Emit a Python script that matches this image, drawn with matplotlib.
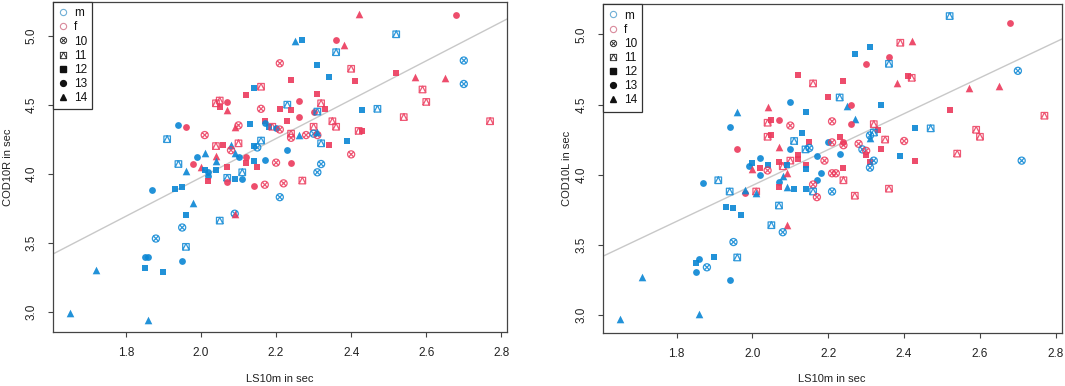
import numpy as np
import matplotlib
matplotlib.use("Agg")
import matplotlib.pyplot as plt
from matplotlib.path import Path
from matplotlib.lines import Line2D

plt.rcParams['font.family'] = ['Liberation Sans', 'DejaVu Sans']

# ---------------- data ----------------
# Left panel: LS10m vs COD10R
r_x = [2.42, 2.68, 2.52, 2.25, 2.27, 2.36, 2.38, 2.36, 2.70, 2.21, 2.31, 2.40, 2.52, 2.34, 2.24, 2.41,
       2.57, 2.65, 2.70, 2.14, 2.16, 2.59, 2.31, 2.12, 2.60, 2.32, 2.04, 2.05, 2.07, 2.05, 2.07, 2.16,
       2.23, 2.21, 2.24, 2.26, 2.33, 2.30, 2.31, 2.43, 2.47, 2.54, 2.26, 2.23, 2.35, 2.77, 1.94, 1.96,
       2.09, 2.10, 2.13, 2.17, 2.17, 2.18, 2.19, 2.20, 2.21, 2.30, 2.36, 2.24, 2.24, 2.26, 2.28, 2.30,
       2.31, 2.31, 2.43, 2.42, 1.91, 2.01, 2.16, 2.15, 2.32, 2.34, 2.39, 2.40, 2.04, 2.06, 2.08, 2.10,
       2.08, 2.09, 2.14, 2.23, 2.01, 1.99, 2.04, 2.04, 2.10, 2.12, 2.12, 2.14, 2.17, 2.20, 2.24, 2.00,
       1.98, 2.07, 2.15, 1.94, 2.32, 2.04, 2.01, 2.02, 2.02, 2.02, 2.07, 2.07, 2.09, 2.11, 2.11, 1.96,
       1.87, 1.93, 1.95, 2.14, 2.17, 2.22, 2.27, 2.21, 2.31, 1.98, 1.96, 1.95, 1.88, 1.96, 2.05, 2.09,
       2.09, 1.85, 1.86, 1.85, 1.95, 1.90, 1.72, 1.65, 1.86]
r_y = [5.16, 5.15, 5.01, 4.96, 4.97, 4.97, 4.93, 4.88, 4.82, 4.80, 4.79, 4.76, 4.73, 4.70, 4.68, 4.67,
       4.70, 4.69, 4.65, 4.62, 4.63, 4.61, 4.58, 4.57, 4.52, 4.51, 4.51, 4.53, 4.52, 4.48, 4.46, 4.47,
       4.50, 4.47, 4.46, 4.53, 4.47, 4.45, 4.45, 4.46, 4.47, 4.41, 4.41, 4.38, 4.38, 4.38, 4.35, 4.34,
       4.34, 4.35, 4.36, 4.38, 4.37, 4.34, 4.34, 4.33, 4.32, 4.34, 4.34, 4.29, 4.26, 4.28, 4.28, 4.29,
       4.28, 4.30, 4.31, 4.31, 4.25, 4.28, 4.24, 4.19, 4.22, 4.21, 4.24, 4.14, 4.20, 4.21, 4.21, 4.22,
       4.17, 4.15, 4.20, 4.17, 4.15, 4.12, 4.13, 4.09, 4.12, 4.12, 4.08, 4.09, 4.10, 4.08, 4.08, 4.05,
       4.07, 4.05, 4.05, 4.07, 4.07, 4.03, 4.03, 4.01, 3.98, 3.95, 3.97, 3.94, 3.96, 3.96, 4.01, 4.02,
       3.88, 3.89, 3.90, 3.91, 3.92, 3.93, 3.95, 3.83, 4.01, 3.79, 3.70, 3.61, 3.53, 3.47, 3.66, 3.71,
       3.71, 3.40, 3.40, 3.32, 3.37, 3.29, 3.30, 2.99, 2.94]
r_sex = list("ffmmmffmmf" "mffmffffmm" "ffffffffff" "ffmfffffmm" "mfffffmfff"
             "mfmmfmffff" "fmfmfmffmf" "mmmfmfffmf" "fmmmmmfmmf" "fmmffffffm"
             "mmmmmfmfmm" "mmmmmffffm" "mmmmmmmmfm" "mmmmmmm")
r_age = [14, 13, 11, 14, 12, 13, 14, 11, 10, 10, 12, 11, 12, 12, 12, 12, 14, 14, 10, 12, 11, 11, 12, 12,
         11, 11, 11, 11, 13, 12, 14, 10, 11, 12, 12, 13, 12, 13, 11, 12, 11, 11, 13, 12, 11, 11, 13, 13,
         14, 10, 12, 12, 13, 12, 11, 13, 10, 11, 11, 11, 10, 14, 10, 10, 10, 14, 12, 11, 11, 10, 11, 10,
         11, 12, 12, 10, 11, 12, 14, 11, 10, 14, 12, 13, 14, 13, 14, 14, 13, 13, 12, 12, 13, 10, 13, 14,
         13, 12, 12, 11, 10, 12, 12, 13, 13, 12, 11, 13, 12, 13, 11, 14, 13, 12, 12, 13, 10, 10, 11, 10,
         10, 14, 12, 10, 10, 11, 11, 10, 14, 13, 13, 12, 13, 12, 14, 14, 14]

# Right panel: LS10m vs COD10L
l_x = [2.52, 2.68, 2.31, 2.27, 2.39, 2.42, 2.36, 2.30, 2.36, 2.70, 2.12, 2.16, 2.24, 2.41, 2.42, 2.38,
       2.57, 2.65, 2.20, 2.23, 2.10, 2.04, 1.96, 2.14, 2.25, 2.26, 2.34, 1.94, 2.05, 2.04, 2.07, 2.10,
       2.21, 2.27, 2.26, 2.32, 2.33, 2.43, 2.47, 2.52, 2.59, 2.60, 2.77, 2.71, 2.54, 2.43, 2.39, 2.40,
       2.35, 2.32, 2.31, 2.31, 2.28, 2.29, 2.30, 2.30, 2.31, 2.32, 2.31, 2.34, 2.23, 2.24, 2.24, 2.23,
       2.24, 2.24, 2.21, 2.22, 2.11, 2.13, 2.15, 2.14, 2.15, 2.10, 2.20, 2.21, 2.12, 2.12, 2.14, 2.14,
       2.17, 2.19, 2.10, 2.07, 2.08, 2.09, 2.05, 2.04, 2.07, 1.96, 2.00, 1.99, 2.02, 2.02, 2.04, 2.00,
       2.04, 2.02, 2.07, 2.08, 2.09, 2.17, 2.18, 2.16, 1.87, 1.91, 1.94, 1.98, 1.98, 2.01, 2.01, 2.07,
       2.09, 2.11, 2.14, 2.16, 2.17, 2.21, 2.27, 2.36, 1.93, 1.95, 1.97, 2.07, 2.05, 2.09, 2.08, 1.95,
       1.96, 1.86, 1.90, 1.85, 1.88, 1.85, 1.94, 1.71, 1.65, 1.86]
l_y = [5.13, 5.08, 4.91, 4.86, 4.94, 4.95, 4.84, 4.79, 4.79, 4.74, 4.71, 4.65, 4.67, 4.70, 4.69, 4.65,
       4.62, 4.63, 4.55, 4.55, 4.52, 4.48, 4.45, 4.45, 4.49, 4.50, 4.50, 4.34, 4.39, 4.37, 4.39, 4.35,
       4.38, 4.40, 4.36, 4.36, 4.32, 4.33, 4.33, 4.46, 4.32, 4.27, 4.42, 4.10, 4.15, 4.10, 4.13, 4.24,
       4.25, 4.30, 4.28, 4.26, 4.22, 4.18, 4.17, 4.14, 4.09, 4.10, 4.05, 4.18, 4.27, 4.23, 4.21, 4.15,
       4.05, 3.96, 4.01, 4.01, 4.24, 4.30, 4.23, 4.18, 4.19, 4.18, 4.23, 4.23, 4.14, 4.11, 4.07, 4.04,
       4.13, 4.10, 4.10, 4.09, 4.06, 4.07, 4.28, 4.27, 4.20, 4.18, 4.08, 4.06, 4.12, 4.05, 4.07, 4.04,
       4.03, 4.00, 3.95, 3.99, 4.01, 3.96, 4.01, 3.93, 3.94, 3.96, 3.88, 3.87, 3.89, 3.88, 3.87, 3.91,
       3.91, 3.90, 3.90, 3.88, 3.84, 3.88, 3.85, 3.90, 3.77, 3.76, 3.71, 3.78, 3.64, 3.64, 3.59, 3.52,
       3.41, 3.40, 3.41, 3.37, 3.34, 3.31, 3.25, 3.27, 2.97, 3.01]
l_sex = list("mfmmffffmm" "fffffffffm" "mfmmmfmmff" "fffmfffmmf" "fffmffmffm"
             "mmfmfffmmf" "fffmffffmm" "fmmmmffffm" "mffffmffff" "mmmfmffmmm"
             "fmmfmmmfmf" "mfmmmmfmff" "mmmmmfmmmm" "mmmmmmmm")
l_age = [11, 13, 12, 12, 11, 14, 13, 13, 11, 10, 12, 11, 12, 12, 11, 14, 14, 14, 12, 11, 13, 14, 14, 12,
         14, 13, 12, 13, 12, 11, 13, 10, 10, 14, 13, 11, 12, 12, 11, 12, 11, 11, 11, 10, 11, 12, 12, 10,
         11, 11, 10, 14, 10, 10, 10, 12, 12, 10, 10, 12, 12, 13, 10, 13, 12, 11, 10, 10, 11, 12, 12, 11,
         10, 13, 13, 10, 12, 12, 12, 12, 13, 10, 11, 12, 11, 12, 12, 11, 14, 13, 12, 13, 13, 12, 12, 14,
         10, 13, 13, 14, 14, 13, 13, 10, 13, 11, 11, 13, 14, 11, 14, 12, 14, 12, 12, 11, 10, 10, 11, 11,
         12, 12, 12, 11, 11, 14, 10, 10, 11, 13, 12, 12, 10, 13, 13, 14, 14, 14]

# regression lines: (intercept, slope)
fit_R = (1.157, 1.408)
fit_L = (1.365, 1.279)

sex_levels = ["m", "f"]
age_levels = [10, 11, 12, 13, 14]
x_ticks = [1.8, 2.0, 2.2, 2.4, 2.6, 2.8]
y_ticks = [3.0, 3.5, 4.0, 4.5, 5.0]

# ---------------- styling ----------------
BLUE = "#0A86D4"
RED = "#EC3A5C"
sex_col = {"m": BLUE, "f": RED}

circ = Path.unit_circle()
d = 0.72
cross = Path([(-d, -d), (d, d), (-d, d), (d, -d)],
             [Path.MOVETO, Path.LINETO, Path.MOVETO, Path.LINETO])
mk10 = Path.make_compound_path(circ, cross)
sq = Path([(-1, -1), (1, -1), (1, 1), (-1, 1), (-1, -1)],
          [Path.MOVETO, Path.LINETO, Path.LINETO, Path.LINETO, Path.CLOSEPOLY])
tri = Path([(-1, -1), (0, 1), (1, -1)], [Path.MOVETO, Path.LINETO, Path.LINETO])
mk11 = Path.make_compound_path(sq, tri)

age_style = {
    10: dict(marker=mk10, s=26, hollow=True),
    11: dict(marker=mk11, s=22, hollow=True),
    12: dict(marker="s", s=20, hollow=False),
    13: dict(marker="o", s=24, hollow=False),
    14: dict(marker="^", s=30, hollow=False),
}

W, H = 1065, 386
fig = plt.figure(figsize=(W / 100, H / 100), dpi=100)
axL = fig.add_axes([53 / W, 1 - 332 / H, 454 / W, 330 / H])
axR = fig.add_axes([603 / W, 1 - 332.7 / H, 458.5 / W, 328.4 / H])


def draw(ax, xs, ys, sexes, ages, fit, ylabel, ylim, ylab_x):
    xs = np.array(xs); ys = np.array(ys)
    sexes = np.array(sexes); ages = np.array(ages)
    # regression line
    xl = np.array([1.606, 2.815])
    ax.plot(xl, fit[0] + fit[1] * xl, color="#C8C8C8", lw=1.0, zorder=1)
    for i in range(len(xs)):
        st = age_style[int(ages[i])]
        col = sex_col[sexes[i]]
        if st["hollow"]:
            ax.scatter(xs[i], ys[i], marker=st["marker"], s=st["s"], facecolors="none",
                       edgecolors=col, linewidths=0.9, alpha=0.85, zorder=2)
        else:
            ax.scatter(xs[i], ys[i], marker=st["marker"], s=st["s"], color=col,
                       linewidths=0, alpha=0.9, zorder=2)
    ax.set_xlim(1.606, 2.815)
    ax.set_ylim(*ylim)
    ax.set_xticks(x_ticks)
    ax.set_xticklabels([f"{v:.1f}" for v in x_ticks])
    ax.set_yticks(y_ticks)
    ax.set_yticklabels([f"{v:.1f}" for v in y_ticks])
    ax.tick_params(axis="both", direction="out", length=3.6, width=0.8, color="#444444",
                   labelsize=8.5, labelcolor="#222222", pad=7.5)
    ax.tick_params(axis="y", labelrotation=90)
    for lab in ax.get_yticklabels():
        lab.set_va("center")
    for sp in ax.spines.values():
        sp.set_color("#444444"); sp.set_linewidth(0.9)
    ax.set_xlabel("LS10m in sec", fontsize=8, color="#222222")
    ax.set_ylabel(ylabel, fontsize=8, color="#222222")
    ax.xaxis.label.set_va("center")
    ax.yaxis.label.set_va("center")
    ax.xaxis.set_label_coords(0.5, -0.142)
    ax.yaxis.set_label_coords(ylab_x, 0.5)

    handles = [
        Line2D([], [], ls="", marker="o", mfc="none", mec="#6FAFD6", mew=0.8, ms=4.5),
        Line2D([], [], ls="", marker="o", mfc="none", mec="#D98A9C", mew=0.8, ms=4.5),
        Line2D([], [], ls="", marker=mk10, mfc="none", mec="#333333", mew=0.7, ms=4.5),
        Line2D([], [], ls="", marker=mk11, mfc="none", mec="#333333", mew=0.7, ms=4.5),
        Line2D([], [], ls="", marker="s", color="#111111", ms=4.0),
        Line2D([], [], ls="", marker="o", color="#111111", ms=4.2),
        Line2D([], [], ls="", marker="^", color="#111111", ms=4.8),
    ]
    labels = sex_levels + [str(a) for a in age_levels]
    leg = ax.legend(handles, labels, loc="upper left", borderaxespad=0, fancybox=False,
                    framealpha=1, edgecolor="#333333", fontsize=8.5, handlelength=0.8,
                    handletextpad=0.5, labelspacing=0.18, borderpad=0.45)
    leg.get_frame().set_linewidth(0.9)
    for t in leg.get_texts():
        t.set_color("#111111")


draw(axL, r_x, r_y, r_sex, r_age, fit_R, "COD10R in sec", (2.853, 5.244), -0.099)
draw(axR, l_x, l_y, l_sex, l_age, fit_L, "COD10L in sec", (2.874, 5.214), -0.0785)

fig.savefig("out.png", dpi=100)
